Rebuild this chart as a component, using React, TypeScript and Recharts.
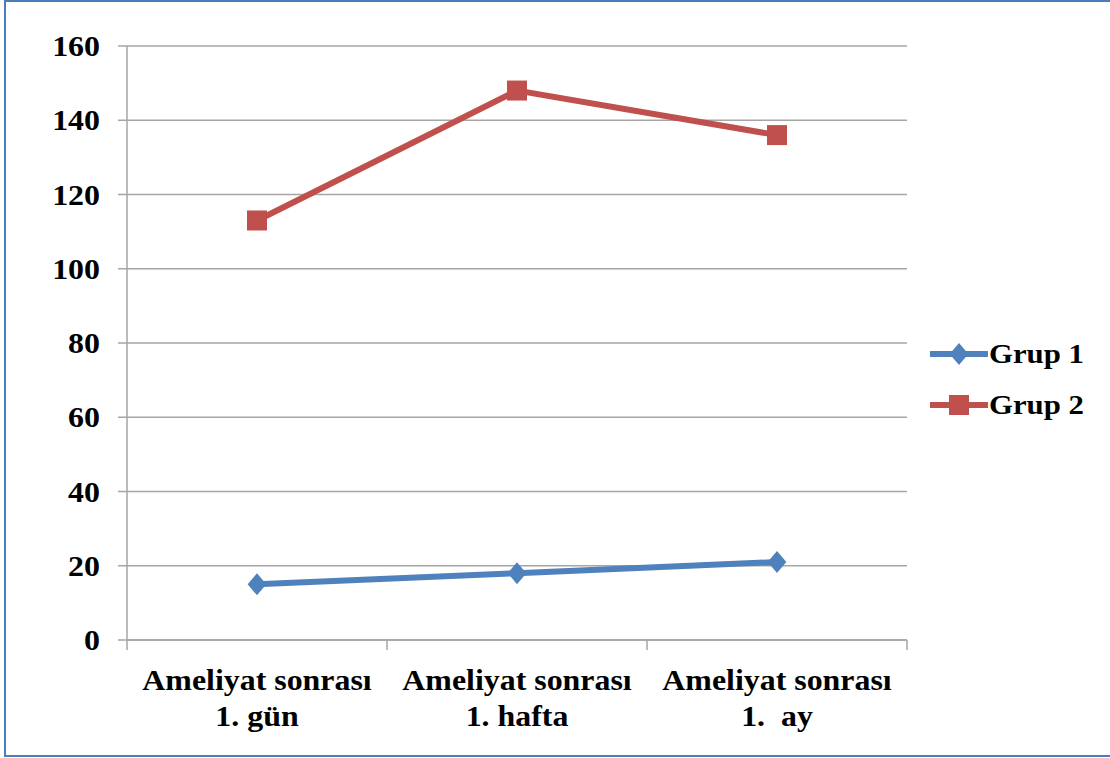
import React from "react";
import { LineChart, Line, XAxis, YAxis, CartesianGrid, Legend } from "recharts";

// Ameliyat sonrası ölçümler, iki grup
const categories = ["Ameliyat sonrası|1. gün", "Ameliyat sonrası|1. hafta", "Ameliyat sonrası|1.  ay"];
const grup1 = [15, 18, 21];
const grup2 = [113, 148, 136];
const yTicks = [0, 20, 40, 60, 80, 100, 120, 140, 160];

const data = categories.map((c, i) => ({ name: c, g1: grup1[i], g2: grup2[i] }));

const BLUE = "#4F81BD";
const RED = "#C0504D";
const AXIS = "#A6A6A6";
const FONT = "'Liberation Serif', 'Times New Roman', serif";
const FS = 29;
const STRETCH = 1.1; // text is set a bit wide

const W = 1110;
const H = 758;
const MARGIN = { top: 46, right: 23, bottom: 18, left: 0 };
const LEGEND_W = 180;
const Y_AXIS_W = 127;
const PLOT_W = W - MARGIN.left - Y_AXIS_W - MARGIN.right - LEGEND_W;

const WideText = ({ x, y, anchor, size = FS, children }: any) => (
  <text
    x={0}
    y={0}
    transform={`translate(${x},${y}) scale(${STRETCH},1)`}
    textAnchor={anchor}
    fontFamily={FONT}
    fontWeight="bold"
    fontSize={size}
    fill="#000"
    style={{ whiteSpace: "pre" }}
  >
    {children}
  </text>
);

const Diamond = (props: any) => {
  const { cx, cy, fill } = props;
  if (cx == null || cy == null) return null;
  const r = 11;
  return <path d={`M${cx},${cy - r}L${cx + r * 0.85},${cy}L${cx},${cy + r}L${cx - r * 0.85},${cy}Z`} fill={fill} />;
};

const Square = (props: any) => {
  const { cx, cy, fill } = props;
  if (cx == null || cy == null) return null;
  const s = 20;
  return <rect x={cx - s / 2} y={cy - s / 2} width={s} height={s} fill={fill} />;
};

// two-line category label plus a tick mark on each band boundary
const XTick = (props: any) => {
  const { x, y, payload, index } = props;
  const band = PLOT_W / categories.length;
  const lines = String(payload.value).split("|");
  const axisY = y - 8;
  return (
    <g>
      <line x1={x - band / 2} x2={x - band / 2} y1={axisY} y2={axisY + 10} stroke={AXIS} strokeWidth={1.5} />
      {index === categories.length - 1 && (
        <line x1={x + band / 2} x2={x + band / 2} y1={axisY} y2={axisY + 10} stroke={AXIS} strokeWidth={1.5} />
      )}
      {lines.map((l, i) => (
        <WideText key={i} x={x} y={axisY + 50 + i * 36} anchor="middle">
          {l}
        </WideText>
      ))}
    </g>
  );
};

const YTick = (props: any) => {
  const { x, y, payload } = props;
  return (
    <WideText x={x + 1} y={y + 10} anchor="end">
      {payload.value}
    </WideText>
  );
};

const LegendBox = () => {
  const items = [
    { label: "Grup 1", color: BLUE, shape: "diamond" },
    { label: "Grup 2", color: RED, shape: "square" },
  ];
  return (
    <svg width={LEGEND_W} height={120}>
      {items.map((it, i) => {
        const cy = 37 + i * 51;
        return (
          <g key={it.label}>
            <line x1={23} x2={81} y1={cy} y2={cy} stroke={it.color} strokeWidth={6} />
            {it.shape === "diamond" ? (
              <Diamond cx={52} cy={cy} fill={it.color} />
            ) : (
              <Square cx={52} cy={cy} fill={it.color} />
            )}
            <WideText x={82} y={cy + 9} anchor="start" size={28}>
              {it.label}
            </WideText>
          </g>
        );
      })}
    </svg>
  );
};

export default function App() {
  return (
    <div
      style={{
        position: "fixed",
        left: 0,
        top: 0,
        width: W,
        height: H,
        background: "#fff",
      }}
    >
      <div
        style={{
          position: "absolute",
          left: 4,
          top: 0,
          width: W - 4,
          height: 757,
          boxSizing: "border-box",
          borderLeft: "2px solid #4A7EBB",
          borderTop: "2px solid #4A7EBB",
          borderBottom: "2px solid #4A7EBB",
        }}
      />
      <LineChart width={W} height={H} data={data} margin={MARGIN} style={{ position: "absolute", left: 0, top: 0 }}>
        <CartesianGrid vertical={false} stroke={AXIS} strokeWidth={1.5} />
        <XAxis
          dataKey="name"
          scale="band"
          axisLine={{ stroke: AXIS, strokeWidth: 1.5 }}
          tickLine={false}
          tick={<XTick />}
          height={100}
          interval={0}
        />
        <YAxis
          domain={[0, 160]}
          ticks={yTicks}
          width={Y_AXIS_W}
          axisLine={{ stroke: AXIS, strokeWidth: 1.5 }}
          tickLine={{ stroke: AXIS, strokeWidth: 1.5 }}
          tickSize={9}
          tickMargin={19}
          tick={<YTick />}
        />
        <Legend
          layout="vertical"
          align="right"
          verticalAlign="middle"
          wrapperStyle={{ width: LEGEND_W }}
          content={<LegendBox />}
        />
        <Line
          type="linear"
          dataKey="g1"
          name="Grup 1"
          stroke={BLUE}
          strokeWidth={6}
          dot={<Diamond fill={BLUE} />}
          activeDot={false}
          isAnimationActive={false}
        />
        <Line
          type="linear"
          dataKey="g2"
          name="Grup 2"
          stroke={RED}
          strokeWidth={6}
          dot={<Square fill={RED} />}
          activeDot={false}
          isAnimationActive={false}
        />
      </LineChart>
    </div>
  );
}
